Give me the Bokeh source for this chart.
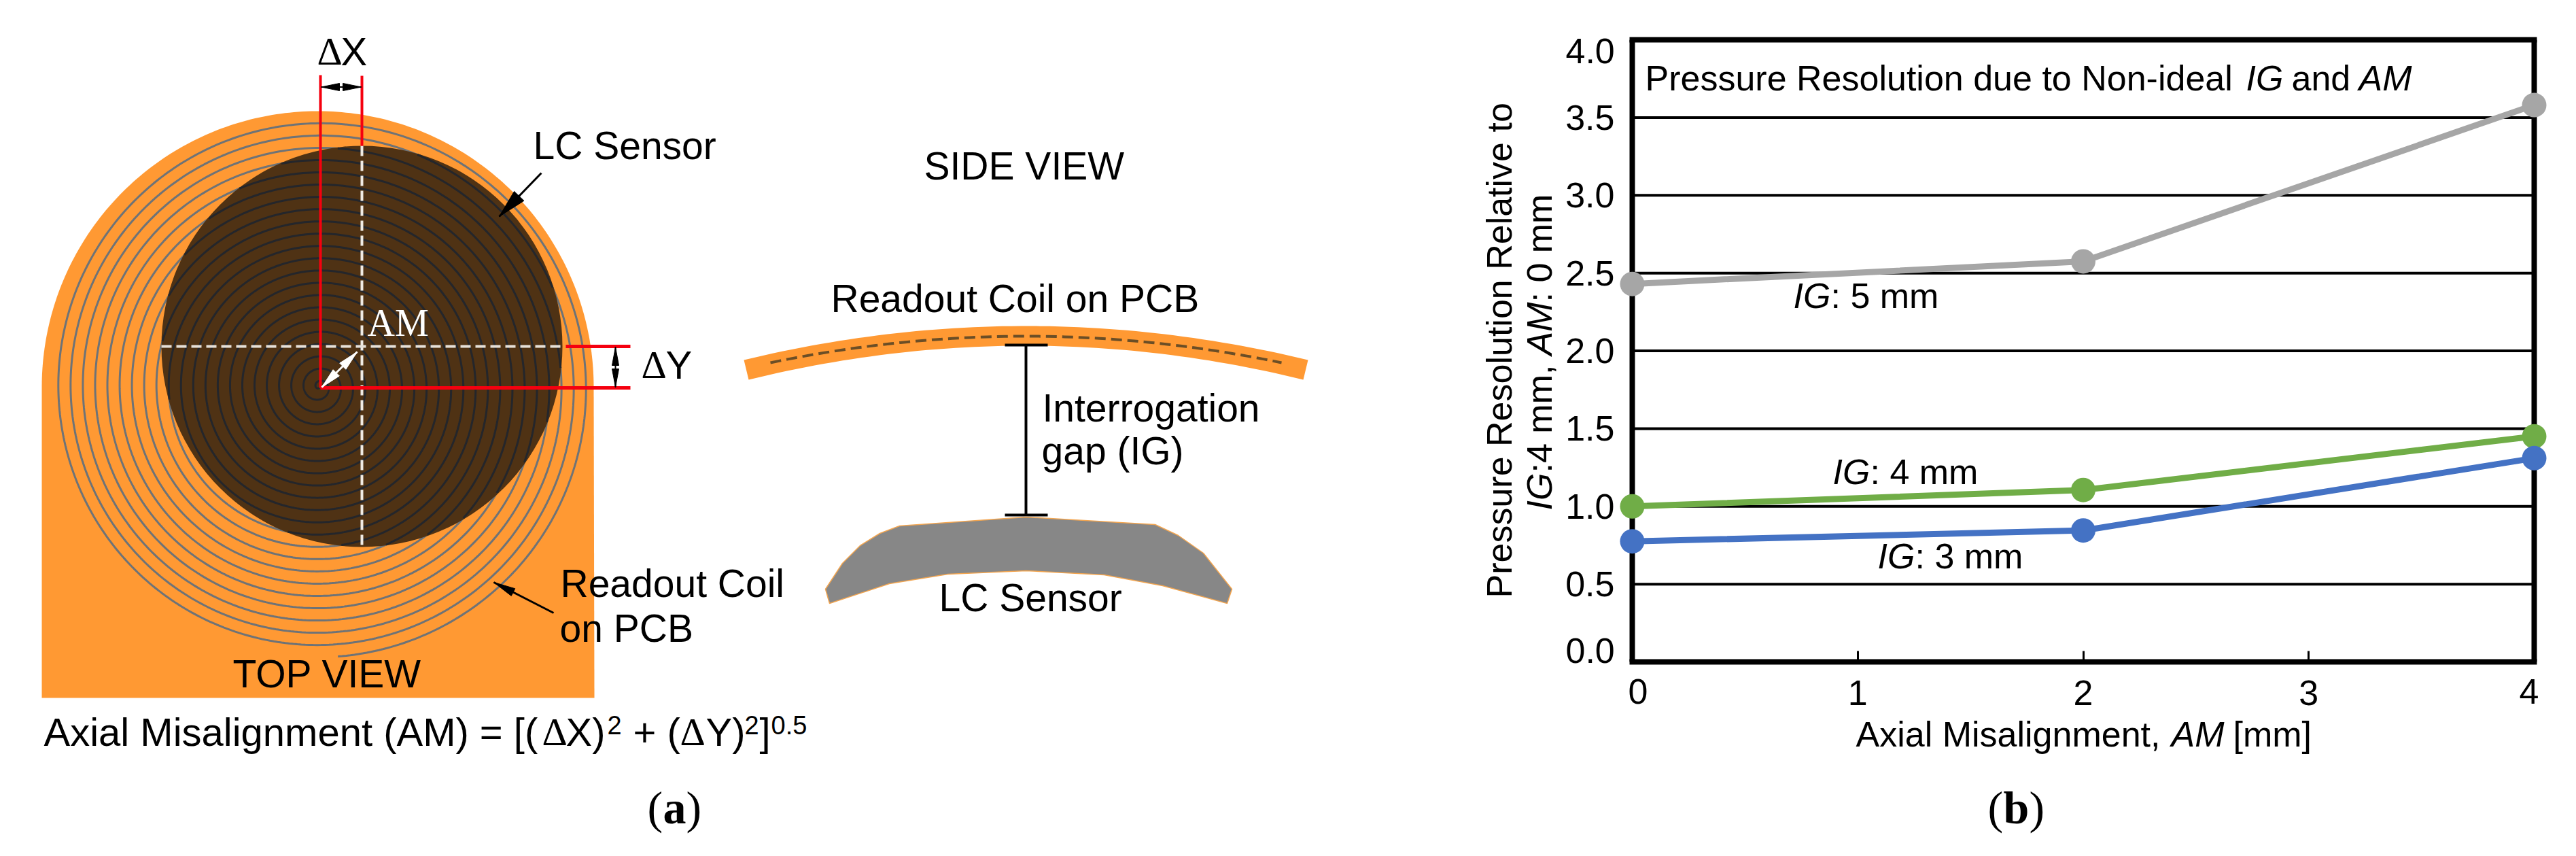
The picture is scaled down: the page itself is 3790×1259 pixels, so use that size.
import numpy as np
from bokeh.embed import file_html
from bokeh.layouts import column
from bokeh.models import Range1d, Label, FixedTicker, LinearAxis
from bokeh.plotting import figure
from bokeh.resources import INLINE

# ---- chart data (panel b)
am_values = [0, 2, 4]
ig3_values = [0.775, 0.845, 1.31]
ig4_values = [1.0, 1.105, 1.45]
ig5_values = [2.43, 2.575, 3.58]
x_ticks = [0, 1, 2, 3, 4]
y_ticks = [0.0, 0.5, 1.0, 1.5, 2.0, 2.5, 3.0, 3.5, 4.0]
y_tick_labels = {0.5: "0.5", 1: "1.0", 1.5: "1.5", 2: "2.0", 2.5: "2.5", 3: "3.0", 3.5: "3.5", 0: "", 4: ""}
grid_levels = [0.5, 1.0, 1.5, 2.0, 2.5, 3.0, 3.5]

ORANGE = "#FF9933"
BROWN = "#4F3214"
RED = "#F5000F"
SANS = "Liberation Sans"
SERIF = "Liberation Serif"
LIFT = 0.37
W, H = 3774, 1243

# ---- schematic and all free texts, in picture pixels
p1 = figure(width=W, height=H, x_range=Range1d(0, W), y_range=Range1d(H, 0),
            output_backend="svg", toolbar_location=None, min_border=0)
p1.axis.visible = False
p1.grid.visible = False
p1.outline_line_color = None


def text1(s, x, y, size=57, color="black", font=SANS, style="normal", angle=0):
    dx, dy = (-LIFT * size, 0) if angle else (0, -LIFT * size)
    p1.add_layout(Label(x=x + dx, y=y + dy, text=s, text_font=font, text_font_size=f"{size}px",
                        text_color=color, text_font_style=style, text_align="left",
                        text_baseline="alphabetic", angle=angle, angle_units="deg"))


def head(x0, y0, x1, y1, length, width, color):
    d = np.array([x1 - x0, y1 - y0], float)
    d /= np.hypot(*d)
    n = np.array([-d[1], d[0]])
    tip = np.array([x1, y1], float)
    base = tip - d * length
    a = base + n * width / 2
    b = base - n * width / 2
    p1.patch([tip[0], a[0], b[0]], [tip[1], a[1], b[1]], fill_color=color, line_color=color, line_width=1)


def arrow(x0, y0, x1, y1, length, width, color="black", lw=3, both=False):
    p1.line([x0, x1], [y0, y1], line_color=color, line_width=lw)
    head(x0, y0, x1, y1, length, width, color)
    if both:
        head(x1, y1, x0, y0, length, width, color)


# dome
th = np.linspace(np.pi, 2 * np.pi, 200)
dome_x = np.r_[61, 467 + 406 * np.cos(th), 874]
dome_y = np.r_[1026, 569 + 406 * np.sin(th), 1026]
p1.patch(dome_x, dome_y, fill_color=ORANGE, line_color=None)

# spiral coil
t = np.linspace(0, 1, 9000)
phi = np.radians(86) - 2 * np.pi * 22 * (1 - t)
r = 397 * t
sx = 469 + r * np.cos(phi)
sy = 569 + r * np.sin(phi)
p1.line(sx, sy, line_color="#6E7377", line_width=3)

# sensor disc
p1.ellipse(x=[532], y=[509], width=[590], height=[590], fill_color=BROWN, line_color=None)
inside = np.hypot(sx - 532, sy - 509) < 294
p1.line(np.where(inside, sx, np.nan), np.where(inside, sy, np.nan), line_color="#24262B", line_width=3)

# dashed axes of the sensor
p1.line([532, 532], [214, 803], line_color="#F0EBE4", line_width=4, line_dash="15 7")
p1.line([237, 827], [509, 509], line_color="#E6E0D8", line_width=4, line_dash="15 7")

# offsets in red
p1.line([471, 471], [110, 570], line_color=RED, line_width=4)
p1.line([532, 532], [111, 214], line_color=RED, line_width=4)
p1.line([471, 927], [570, 570], line_color=RED, line_width=5)
p1.line([832, 927], [509, 509], line_color=RED, line_width=5)

arrow(472, 127.5, 531, 127.5, 27, 11, both=True, lw=2)
arrow(905, 510, 905, 569, 27, 10, both=True, lw=2)
arrow(473, 569, 525, 517, 30, 13, color="white", both=True)
arrow(796, 254, 734, 318, 42, 20)
arrow(814, 901, 726, 856, 32, 12)

# side view
sx_band = np.linspace(-1, 1, 60)
top_x = 1509 + sx_band * 415
top_y = 479 + 50 * sx_band ** 2
bot_x = 1509 + sx_band[::-1] * 408
bot_y = 508 + 50 * sx_band[::-1] ** 2
p1.patch(np.r_[top_x, bot_x], np.r_[top_y, bot_y], fill_color=ORANGE, line_color=None)
p1.line(1509 + sx_band * 376, 494 + 39 * sx_band ** 2, line_color="#6B4E26", line_width=4, line_dash="16 8")

p1.line([1509, 1509], [507, 756], line_color="black", line_width=4)
p1.line([1478, 1541], [507, 507], line_color="black", line_width=4)
p1.line([1478, 1541], [757, 757], line_color="black", line_width=4)

grey_x = [1214, 1239, 1265, 1294, 1323, 1509, 1699, 1733, 1770, 1812, 1805, 1710, 1624, 1509, 1394, 1308, 1220]
grey_y = [866, 828, 802, 784, 773, 760, 771, 787, 813, 866, 887, 861, 845, 839, 844, 858, 887]
p1.patch(grey_x, grey_y, fill_color="#878787", line_color="#F2A550", line_width=1.5)

# texts of panel a
text1("\u0394", 466, 96, 58, font=SERIF)
text1("X", 501, 96, 58)
text1("LC Sensor", 784, 235)
text1("AM", 540, 495, 56, color="white", font=SERIF)
text1("\u0394", 943, 557, 58, font=SERIF)
text1("Y", 979, 557, 58)
text1("Readout Coil", 824, 879)
text1("on PCB", 823, 945)
text1("TOP VIEW", 342, 1012)
text1("Axial Misalignment (AM) = [(", 64, 1097, 58)
text1("\u0394", 797, 1097, 58, font=SERIF)
text1("X)", 832, 1097, 58)
text1("2", 893, 1080, 38)
text1("+ (", 931, 1097, 58)
text1("\u0394", 1000, 1097, 58, font=SERIF)
text1("Y)", 1038, 1097, 58)
text1("2", 1095, 1080, 38)
text1("]", 1117, 1097, 58)
text1("0.5", 1134, 1080, 38)
text1("SIDE VIEW", 1359, 265)
text1("Readout Coil on PCB", 1222, 460)
text1("Interrogation", 1533, 621)
text1("gap (IG)", 1532, 684)
text1("LC Sensor", 1381, 900)
text1("(", 952, 1213, 68, font=SERIF)
text1("a", 975, 1213, 68, font=SERIF, style="bold")
text1(")", 1009, 1213, 68, font=SERIF)

# texts of panel b
text1("4.0", 2303, 94, 52)
text1("0.0", 2303, 976, 52)
text1("0", 2395, 1036, 52)
text1("4", 3706, 1036, 52)

text1("Pressure Resolution due to Non-ideal", 2420, 134, 52)
text1("IG", 3304, 134, 52, style="italic")
text1("and", 3371, 134, 52)
text1("AM", 3470, 134, 52, style="italic")

text1("Axial Misalignment,", 2730, 1099, 52)
text1("AM", 3194, 1099, 52, style="italic")
text1("[mm]", 3285, 1099, 52)

text1("Pressure Resolution Relative to", 2225, 879, 52, angle=90)
text1("IG", 2284, 750, 52, style="italic", angle=90)
text1(":4 mm,", 2284, 695, 52, angle=90)
text1("AM", 2284, 522, 52, style="italic", angle=90)
text1(": 0 mm", 2284, 444, 52, angle=90)

for left, base, tail in ((2638, 454, ": 5 mm"), (2696, 713, ": 4 mm"), (2762, 837, ": 3 mm")):
    text1("IG", left, base, 52, style="italic")
    text1(tail, left + 55, base, 52)

text1("(", 2924, 1213, 68, font=SERIF)
text1("b", 2947, 1213, 68, font=SERIF, style="bold")
text1(")", 2985, 1213, 68, font=SERIF)

# ---- panel b: the chart, laid over the right part of the page
PX_X = 331.75
PAD = 20
ORIGIN_X = 2180
p2 = figure(width=W - ORIGIN_X, height=H,
            x_range=Range1d(-PAD / PX_X, 4 + PAD / PX_X), y_range=Range1d(0, 4),
            output_backend="svg", toolbar_location=None,
            min_border_left=2401 - PAD - ORIGIN_X, min_border_right=W - 3728 - PAD,
            min_border_top=58, min_border_bottom=H - 973,
            background_fill_color=None, border_fill_color=None)
p2.grid.visible = False
p2.outline_line_color = None

# frame sides and grid
p2.segment(x0=[0, 4], x1=[0, 4], y0=[0, 0], y1=[4, 4], line_color="black", line_width=8, level="underlay")
p2.segment(x0=[0] * len(grid_levels), x1=[4] * len(grid_levels), y0=grid_levels, y1=grid_levels,
           line_color="black", line_width=4, level="underlay")

CORNER = 4 / PX_X
ax = p2.xaxis[0]
ax.ticker = FixedTicker(ticks=x_ticks)
ax.major_label_overrides = {0: "", 4: ""}
ax.major_label_text_font = SANS
ax.major_label_text_font_size = "52px"
ax.major_label_text_color = "black"
ax.major_label_standoff = 27
ax.bounds = (-CORNER, 4 + CORNER)
ax.axis_line_color = "black"
ax.axis_line_width = 8
ax.major_tick_in = 16
ax.major_tick_out = 0
ax.major_tick_line_width = 3
ax.major_tick_line_color = "black"
ax.minor_tick_line_color = None

top_ax = LinearAxis(ticker=FixedTicker(ticks=[]), bounds=(-CORNER, 4 + CORNER),
                    axis_line_color="black", axis_line_width=8,
                    major_tick_line_color=None, minor_tick_line_color=None,
                    major_label_text_color=None)
p2.add_layout(top_ax, "above")

ay = p2.yaxis[0]
ay.ticker = FixedTicker(ticks=y_ticks)
ay.major_label_overrides = y_tick_labels
ay.major_label_text_font = SANS
ay.major_label_text_font_size = "52px"
ay.major_label_text_color = "black"
ay.major_label_standoff = 6
ay.major_tick_in = 0
ay.major_tick_out = 0
ay.axis_line_color = None
ay.major_tick_line_color = None
ay.minor_tick_line_color = None

for vals, col in ((ig5_values, "#A6A6A6"), (ig4_values, "#70AD47"), (ig3_values, "#4472C4")):
    p2.line(am_values, vals, line_color=col, line_width=9)
    p2.scatter(am_values, vals, size=36, fill_color=col, line_color=None)

page = column(column(p1), column(p2, margin=(-H, 0, 0, ORIGIN_X)), spacing=0)
open("out.html", "w").write(file_html(page, INLINE))
